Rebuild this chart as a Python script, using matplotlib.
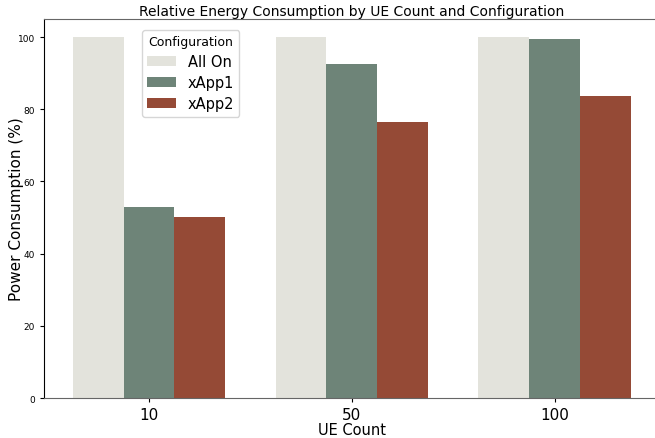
import numpy as np
import matplotlib
matplotlib.use("Agg")
import matplotlib.pyplot as plt

# data
ue_counts = ["10", "50", "100"]
configs = ["All On", "xApp1", "xApp2"]
all_on = [100, 100, 100]
xapp1 = [52.9, 92.5, 99.4]
xapp2 = [50.1, 76.5, 83.7]

colors = ["#e3e3dc", "#6e8478", "#954a36"]

fig = plt.figure(figsize=(6.55, 4.39), dpi=100)
ax = fig.add_axes([0.0672, 0.0911, 0.9404, 0.8633])

x = np.arange(len(ue_counts))
width = 0.25
for i, (name, vals) in enumerate(zip(configs, [all_on, xapp1, xapp2])):
    ax.bar(x + (i - 1) * width, vals, width, color=colors[i], label=name)

ax.set_xlim(-0.517, 2.52)
ax.set_ylim(0, 105)
ax.set_xticks(x)
ax.set_xticklabels(ue_counts, fontsize=11)
ax.tick_params(axis="y", labelsize=6.5, length=3)
ax.tick_params(axis="x", length=3)
ax.set_yticks([0, 20, 40, 60, 80, 100])

ax.set_xlabel("UE Count", fontsize=10.5, labelpad=0)
ax.set_ylabel("Power Consumption (%)", fontsize=11)
ax.yaxis.set_label_coords(-0.033, 0.5)
ax.set_title("Relative Energy Consumption by UE Count and Configuration", fontsize=10, pad=3)

for s in ["top", "bottom"]:
    ax.spines[s].set_color("#666666")
ax.spines["left"].set_color("black")

ax.legend(title="Configuration", fontsize=10.5, title_fontsize=9,
          loc="upper left", bbox_to_anchor=(0.159, 0.971), borderaxespad=0,
          handlelength=2.0, borderpad=0.35, labelspacing=0.42)

fig.savefig("out.png", dpi=100)
